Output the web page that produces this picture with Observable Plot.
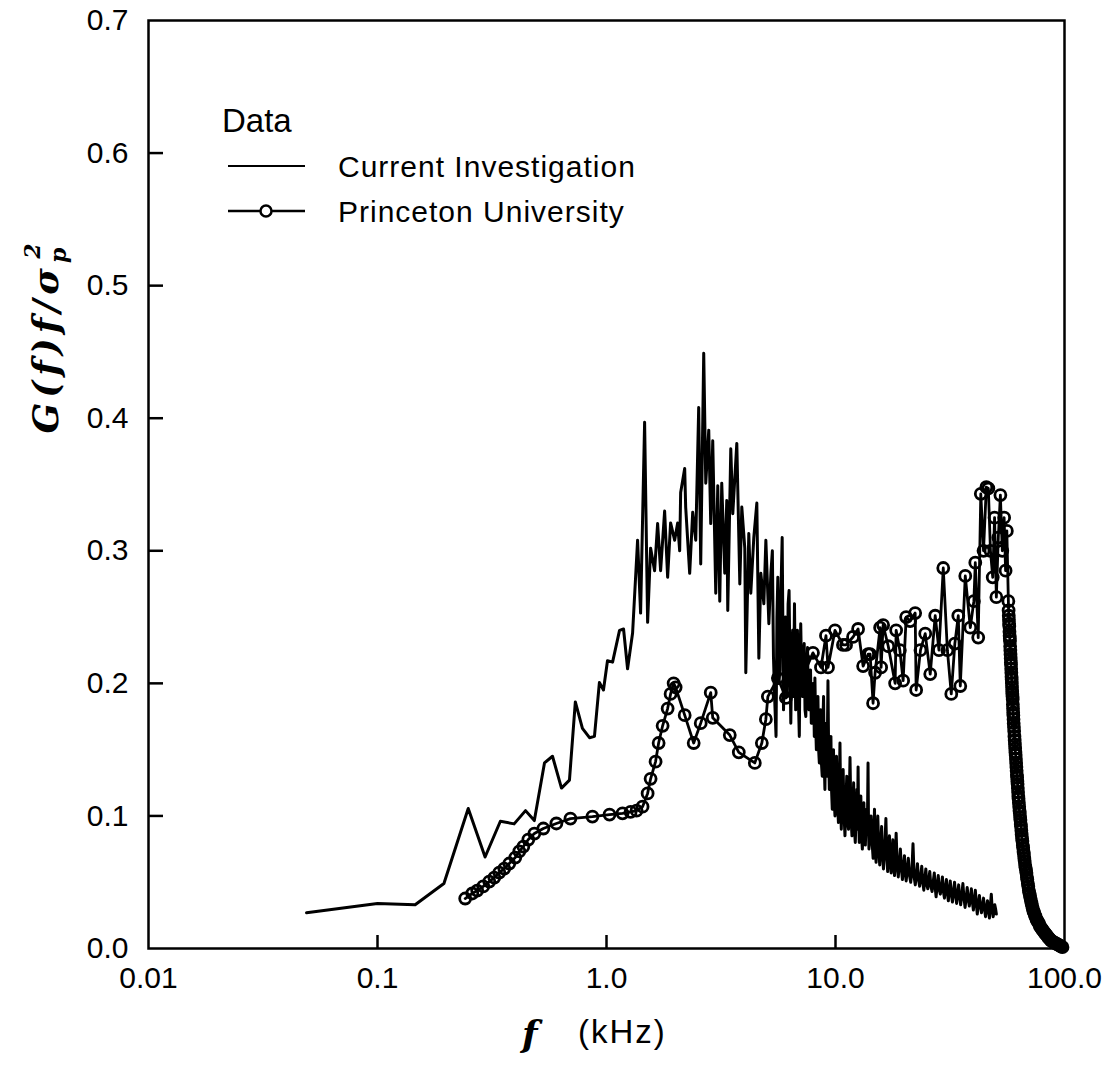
<!DOCTYPE html>
<html>
<head>
<meta charset="utf-8">
<script src="https://cdn.jsdelivr.net/npm/d3@7"></script>
<script src="https://cdn.jsdelivr.net/npm/@observablehq/plot@0.6"></script>
<style>
  html, body { margin: 0; padding: 0; background: #fff; }
  #chart svg { display: block; }
</style>
</head>
<body>
<div id="chart"></div>
<script>
// ---------- DATA ----------
const seriesNames = ["Current Investigation", "Princeton University"];
const legendTitle = "Data";

// Current Investigation: frequency (kHz) and G(f)f/sigma^2
const ciF = [0.049,0.1,0.146,0.195,0.249,0.295,0.344,0.395,0.443,0.484,0.536,0.581,0.636,0.689,0.731,0.785,0.843,0.886,0.931,0.970,
  1.01,1.063,1.14,1.187,1.236,1.30,1.367,1.409,1.467,1.512,1.558,1.622,1.672,1.723,1.794,1.849,1.905,1.984,2.045,2.087,2.108,2.195,2.217,2.308,2.379,2.453,2.527,2.579,2.658,2.713,2.796,2.852,2.910,3.000,3.061,3.123,3.186,3.284,3.351,3.385,3.489,3.560,3.707,3.821,3.898,4.017,4.058,4.182,4.267,4.398,4.534,4.627,4.721,4.866,4.965,5.117,5.222,
  5.30,5.36,5.42,5.50,5.55,5.60,5.66,5.72,5.78,5.85,5.93,5.99,6.05,6.10,6.15,6.21,6.27,6.33,6.38,6.44,6.50,6.56,6.62,6.70,6.76,6.82,6.88,6.95,7.00,7.05,7.12,7.18,7.24,7.30,7.36,7.42,7.48,7.55,7.60,7.66,7.72,7.78,7.84,7.90,7.96,8.02,8.08,8.13,8.19,8.25,8.31,8.38,8.44,8.50,8.56,8.62,8.68,8.75,8.81,8.87,8.93,8.99,9.05,9.10,9.18,9.27,9.33,9.40,9.47,9.55,9.61,9.68,9.74,9.80,9.88,9.95,
  10.02,10.1,10.2,10.3,10.38,10.46,10.53,10.6,10.7,10.8,10.9,11.0,11.1,11.2,11.3,11.4,11.48,11.57,11.68,11.8,11.9,12.0,12.1,12.2,12.3,12.4,12.47,12.55,12.62,12.7,12.8,12.9,13.0,13.1,13.2,13.3,13.4,13.5,13.6,13.7,13.78,13.87,13.94,14.0,14.15,14.3,14.45,14.6,14.7,14.8,14.92,15.04,15.17,15.3,15.45,15.6,15.75,15.9,16.05,16.2,16.4,16.6,16.75,16.9,17.05,17.2,17.35,17.5,17.65,17.8,17.95,18.1,18.25,18.4,18.6,18.8,19.0,19.2,19.4,19.6,19.8,
  20.0,20.2,20.35,20.6,20.8,21.05,21.3,21.55,21.8,22.05,22.3,22.55,22.8,23.05,23.3,23.55,23.8,24.05,24.3,24.55,24.8,25.05,25.3,25.55,25.8,26.1,26.4,26.7,27.0,27.25,27.5,27.8,28.1,28.4,28.7,29.0,29.3,29.6,29.9,30.2,30.5,30.8,31.1,31.4,31.7,32.05,32.4,32.75,33.1,33.45,33.8,34.15,34.5,34.85,35.2,35.6,36.0,36.4,36.8,37.2,37.6,38.0,38.4,38.8,39.2,39.6,40.0,40.4,40.8,41.2,41.6,42.05,42.5,42.95,43.4,43.85,44.3,44.75,45.2,45.65,46.1,46.55,47.0,47.45,47.9,48.35,48.8,49.2,49.6,50.0,50.4];
const ciV = [0.027,0.034,0.033,0.049,0.1056,0.069,0.096,0.094,0.104,0.0965,0.140,0.145,0.121,0.127,0.186,0.166,0.159,0.160,0.2006,0.195,
  0.217,0.216,0.240,0.241,0.211,0.238,0.308,0.253,0.397,0.246,0.302,0.285,0.3205,0.285,0.330,0.280,0.321,0.308,0.321,0.300,0.344,0.362,0.333,0.283,0.329,0.308,0.408,0.290,0.449,0.351,0.391,0.3205,0.383,0.268,0.349,0.262,0.351,0.283,0.338,0.255,0.377,0.328,0.381,0.275,0.333,0.302,0.208,0.313,0.268,0.310,0.336,0.219,0.283,0.260,0.308,0.245,0.283,
  0.30,0.22,0.19,0.16,0.25,0.28,0.20,0.21,0.27,0.31,0.18,0.23,0.25,0.20,0.19,0.26,0.27,0.21,0.17,0.22,0.24,0.19,0.26,0.18,0.23,0.24,0.19,0.16,0.22,0.245,0.20,0.19,0.22,0.23,0.18,0.175,0.21,0.227,0.19,0.18,0.20,0.21,0.17,0.17,0.19,0.20,0.16,0.204,0.17,0.15,0.18,0.19,0.15,0.14,0.17,0.18,0.14,0.13,0.17,0.19,0.14,0.12,0.16,0.17,0.13,0.202,0.15,0.12,0.14,0.16,0.12,0.105,0.13,0.15,0.11,0.10,
  0.13,0.145,0.11,0.095,0.12,0.155,0.11,0.09,0.12,0.135,0.10,0.085,0.11,0.13,0.095,0.09,0.11,0.144,0.10,0.085,0.10,0.125,0.09,0.08,0.10,0.12,0.09,0.137,0.10,0.08,0.095,0.115,0.085,0.075,0.09,0.11,0.085,0.078,0.095,0.105,0.09,0.14,0.09,0.075,0.085,0.10,0.08,0.068,0.085,0.105,0.075,0.065,0.08,0.10,0.075,0.063,0.078,0.092,0.07,0.060,0.075,0.098,0.07,0.058,0.07,0.085,0.066,0.057,0.07,0.082,0.063,0.055,0.068,0.087,0.062,0.054,0.064,0.075,0.06,0.052,0.062,
  0.07,0.056,0.051,0.06,0.068,0.055,0.05,0.058,0.079,0.054,0.048,0.055,0.064,0.052,0.047,0.054,0.062,0.05,0.044,0.052,0.06,0.048,0.045,0.052,0.058,0.047,0.043,0.05,0.057,0.046,0.039,0.048,0.055,0.044,0.041,0.047,0.054,0.043,0.038,0.046,0.052,0.042,0.036,0.044,0.051,0.041,0.035,0.043,0.05,0.04,0.034,0.042,0.048,0.039,0.033,0.04,0.049,0.038,0.031,0.038,0.046,0.037,0.032,0.038,0.045,0.035,0.029,0.036,0.044,0.034,0.026,0.033,0.040,0.032,0.027,0.032,0.038,0.03,0.024,0.03,0.036,0.029,0.023,0.032,0.041,0.029,0.024,0.028,0.033,0.03,0.026];

// Princeton University: frequency (kHz) and G(f)f/sigma^2
const puF = [0.2415,0.2593,0.2725,0.2895,0.3076,0.3236,0.3402,0.3577,0.3762,0.3996,0.4161,0.4334,0.4556,0.4842,0.5300,0.6041,0.6959,0.868,
  1.031,1.175,1.274,1.353,1.437,1.512,1.558,1.638,1.689,1.758,1.849,1.905,1.964,2.004,2.195,2.403,2.579,2.852,2.91,3.454,3.782,4.443,4.768,4.965,5.066,5.603,6.073,6.855,7.972,8.642,9.087,9.272,9.95,
  10.78,11.12,11.93,12.55,13.20,13.88,14.16,14.59,14.89,15.66,15.82,16.14,17.0,18.21,18.40,19.1,19.74,20.35,21.18,22.28,22.5,23.5,24.65,25.92,27.25,28.3,29.55,30.8,32.03,33.2,34.37,35.07,36.87,38.78,40.2,40.78,42.0,43.1,44.3,45.56,46.5,47.5,48.6,49.5,50.4,51.4,52.48,53.5,54.5,55.3,56.0,56.87,
  57.0,57.1,57.2,57.3,57.4,57.5,57.6,57.7,57.8,57.9,58.0,58.1,58.2,58.3,58.4,58.5,58.6,58.7,58.8,58.9,59.0,59.1,59.2,59.3,59.4,59.5,59.6,59.7,59.8,59.9,60.0,60.15,60.3,60.45,60.6,60.75,60.9,61.05,61.2,61.35,61.5,61.65,61.8,61.95,62.1,62.25,62.4,62.55,62.7,62.85,63.0,63.2,63.4,63.6,63.8,64.0,64.2,64.4,64.6,64.8,65.0,65.25,65.5,65.75,66.0,66.25,66.5,66.75,67.0,67.3,67.6,67.9,68.2,68.5,68.8,69.15,69.5,69.85,70.2,70.6,71.0,71.4,71.8,72.25,72.7,73.2,73.7,74.25,74.8,75.4,76.0,76.65,77.3,78.0,78.7,79.45,80.2,81.0,81.8,82.65,83.5,84.4,85.3,86.25,87.2,88.2,89.2,90.25,91.3,92.4,93.5,94.65,95.8,96.9,98.0];
const puV = [0.0377,0.0415,0.0437,0.0468,0.0505,0.0535,0.0573,0.0603,0.0641,0.0686,0.0732,0.0769,0.0822,0.0867,0.0905,0.0943,0.0980,0.0995,
  0.101,0.102,0.103,0.104,0.107,0.117,0.128,0.141,0.155,0.168,0.181,0.192,0.200,0.197,0.176,0.155,0.170,0.193,0.174,0.161,0.148,0.140,0.155,0.173,0.190,0.204,0.189,0.197,0.223,0.212,0.236,0.212,0.240,
  0.229,0.229,0.235,0.241,0.213,0.222,0.222,0.185,0.208,0.242,0.212,0.244,0.228,0.200,0.240,0.225,0.202,0.250,0.247,0.253,0.195,0.225,0.2375,0.207,0.251,0.225,0.287,0.225,0.192,0.230,0.251,0.198,0.281,0.242,0.262,0.291,0.2345,0.343,0.300,0.348,0.347,0.300,0.280,0.325,0.265,0.310,0.342,0.300,0.325,0.285,0.315,0.262,
  0.255,0.251,0.248,0.245,0.243,0.239,0.236,0.234,0.232,0.228,0.225,0.222,0.219,0.216,0.214,0.211,0.208,0.205,0.203,0.200,0.197,0.194,0.192,0.190,0.188,0.184,0.181,0.178,0.176,0.173,0.170,0.167,0.164,0.160,0.157,0.154,0.151,0.148,0.146,0.143,0.140,0.137,0.134,0.131,0.129,0.126,0.124,0.121,0.118,0.115,0.113,0.110,0.107,0.104,0.102,0.099,0.097,0.094,0.092,0.089,0.086,0.083,0.081,0.078,0.076,0.073,0.071,0.068,0.066,0.063,0.061,0.059,0.057,0.054,0.052,0.049,0.047,0.044,0.042,0.040,0.038,0.036,0.034,0.032,0.030,0.028,0.027,0.025,0.024,0.022,0.021,0.020,0.019,0.017,0.016,0.015,0.014,0.013,0.012,0.011,0.010,0.009,0.008,0.007,0.006,0.0055,0.005,0.0045,0.004,0.0035,0.003,0.0025,0.002,0.0015,0.001];

// Axis ticks
const xTicks = [0.01, 0.1, 1, 10, 100];
const xTickLabels = ["0.01", "0.1", "1.0", "10.0", "100.0"];
const xInnerTicks = [0.1, 1, 10];
const yTicks = [0, 0.1, 0.2, 0.3, 0.4, 0.5, 0.6, 0.7];
const yTickLabels = ["0.0", "0.1", "0.2", "0.3", "0.4", "0.5", "0.6", "0.7"];
const yInnerTicks = [0.1, 0.2, 0.3, 0.4, 0.5, 0.6];

// ---------- BUILD ----------
const ci = ciF.map((f, i) => ({f, v: ciV[i]}));
const pu = puF.map((f, i) => ({f, v: puV[i]}));

const W = 1118, H = 1067;
const mL = 148, mR = 54, mT = 20, mB = 119;
const plotW = W - mL - mR, plotH = H - mT - mB;
const FONT = "'Liberation Sans', Arial, sans-serif";

const chart = Plot.plot({
  width: W,
  height: H,
  marginLeft: mL,
  marginRight: mR,
  marginTop: mT,
  marginBottom: mB,
  style: {fontFamily: FONT, background: "#fff", color: "#000"},
  x: {type: "log", domain: [0.01, 100], label: null},
  y: {domain: [0, 0.7], label: null},
  marks: [
    Plot.line(ci, {x: "f", y: "v", stroke: "#000", strokeWidth: 3}),
    Plot.line(pu, {x: "f", y: "v", stroke: "#000", strokeWidth: 2.8}),
    Plot.dot(pu, {x: "f", y: "v", r: 5.5, stroke: "#000", fill: "none", strokeWidth: 2.8}),
    Plot.frame({stroke: "#000", strokeWidth: 2.5}),
    Plot.tickX(xInnerTicks, {x: d => d, stroke: "#000", strokeWidth: 2.5, insetTop: plotH - 13}),
    Plot.tickY(yInnerTicks, {y: d => d, stroke: "#000", strokeWidth: 2.5, insetRight: plotW - 15}),
    Plot.axisX(xTicks, {tickSize: 0, tickPadding: 18, fontSize: 30, label: null,
      tickFormat: d => xTickLabels[xTicks.indexOf(d)]}),
    Plot.axisY(yTicks, {tickSize: 0, tickPadding: 20, fontSize: 30, label: null,
      tickFormat: d => yTickLabels[yTicks.indexOf(d)]})
  ]
});

document.getElementById("chart").appendChild(chart);

// ---------- LEGEND & AXIS TITLES ----------
const svg = d3.select(chart);
const lg = svg.append("g").attr("font-family", FONT).attr("fill", "#000").attr("text-anchor", "start");
lg.append("text").attr("x", 222).attr("y", 132).attr("font-size", 33).text(legendTitle);
seriesNames.forEach((name, i) => {
  const y = 166 + i * 45;
  lg.append("line").attr("x1", 228).attr("x2", 305).attr("y1", y).attr("y2", y)
    .attr("stroke", "#000").attr("stroke-width", i === 0 ? 2 : 2.5);
  if (i === 1) {
    lg.append("circle").attr("cx", 266).attr("cy", y).attr("r", 5.5)
      .attr("fill", "#fff").attr("stroke", "#000").attr("stroke-width", 2.5);
  }
  lg.append("text").attr("x", 338).attr("y", y + 11).attr("font-size", 30)
    .attr("letter-spacing", 1).text(name);
});

// Y title
const yt = svg.append("text")
  .attr("transform", "translate(58,336) rotate(-90)")
  .attr("text-anchor", "middle")
  .attr("font-family", "'DejaVu Serif', serif")
  .attr("font-weight", "bold").attr("font-style", "italic")
  .attr("font-size", 36).attr("letter-spacing", 5).attr("fill", "#000");
yt.append("tspan").text("G(f)f/σ");
yt.append("tspan").attr("font-size", 22).attr("dy", 8).text("p");
yt.append("tspan").attr("font-size", 22).attr("dx", -16).attr("dy", -26).text("2");

// X title
const xg = svg.append("g").attr("text-anchor", "start").attr("fill", "#000");
xg.append("text").attr("x", 522).attr("y", 1046)
  .attr("font-family", "'DejaVu Serif', serif").attr("font-weight", "bold").attr("font-style", "italic")
  .attr("font-size", 36).text("f");
xg.append("text").attr("x", 578).attr("y", 1043)
  .attr("font-family", FONT).attr("font-size", 33).attr("letter-spacing", 2).text("(kHz)");
</script>
</body>
</html>
